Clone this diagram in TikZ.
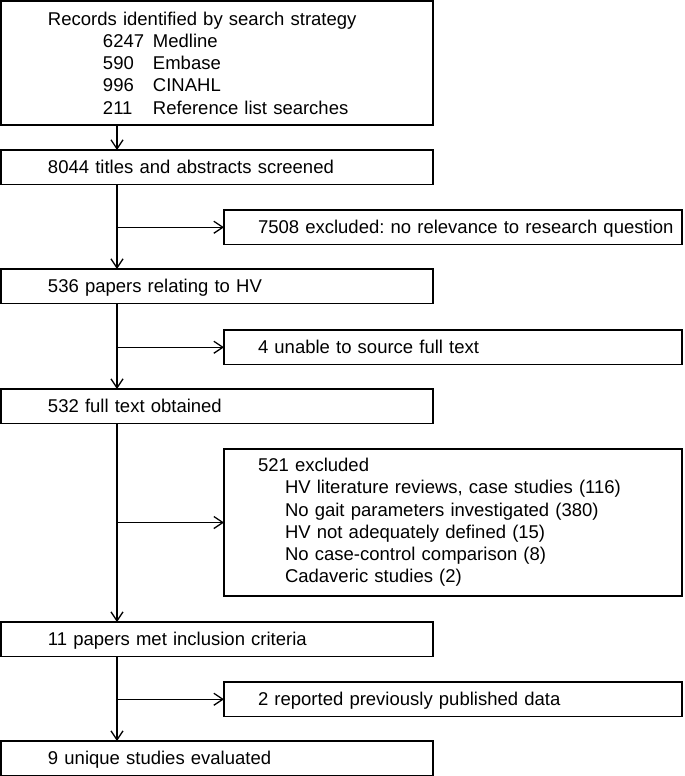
\documentclass[tikz,border=0pt]{standalone}
\usepackage{fontspec}
\setmainfont{Liberation Sans}
\usetikzlibrary{arrows.meta}
\frenchspacing

\begin{document}
\begin{tikzpicture}[
      x=1pt, y=-1pt,
      every node/.style={font=\fontsize{18.5}{22.2}\selectfont},
      box/.style={draw, line width=1.3pt, anchor=north west, outer sep=0pt, inner xsep=0pt,
        align=left, minimum height=34.5pt, text height=13pt, text depth=0pt},
      mainbox/.style={box, text width=432pt, execute at begin node={\leftskip=47pt}},
      sidebox/.style={box, text width=458pt, execute at begin node={\leftskip=34pt}},
      list/.style={text height=, text depth=},
      arrow/.style={line width=1.3pt, -{Straight Barb[length=9pt, width=12pt]}}
    ]
      \useasboundingbox (0,0) rectangle (685,776);
      \coordinate (spine) at (117,0);

      % Main flow
      \node[mainbox, list, minimum height=124pt] (records) at (1,1) {Records identified by search strategy\\
        \hspace*{55pt}\makebox[50pt][l]{6247}Medline\\
        \hspace*{55pt}\makebox[50pt][l]{590}Embase\\
        \hspace*{55pt}\makebox[50pt][l]{996}CINAHL\\
        \hspace*{55pt}\makebox[50pt][l]{211}Reference list searches};
      \node[mainbox] (screened) at (1,150) {8044 titles and abstracts screened};
      \node[mainbox] (relating) at (1,269) {536 papers relating to HV};
      \node[mainbox] (obtained) at (1,389) {532 full text obtained};
      \node[mainbox] (included) at (1,622) {11 papers met inclusion criteria};
      \node[mainbox] (evaluated) at (1,741) {9 unique studies evaluated};

      % Exclusions
      \node[sidebox] (irrelevant) at (224,210) {7508 excluded: no relevance to research question};
      \node[sidebox] (unsourced) at (224,330) {4 unable to source full text};
      \node[sidebox, list, minimum height=147pt] (excluded) at (224,449) {521 excluded\\
        \hspace*{27pt}HV literature reviews, case studies (116)\\
        \hspace*{27pt}No gait parameters investigated (380)\\
        \hspace*{27pt}HV not adequately defined (15)\\
        \hspace*{27pt}No case-control comparison (8)\\
        \hspace*{27pt}Cadaveric studies (2)};
      \node[sidebox] (duplicated) at (224,682) {2 reported previously published data};

      % Arrows down the spine
      \draw[arrow] (records.south -| spine) -- (screened.north -| spine);
      \draw[arrow] (screened.south -| spine) -- (relating.north -| spine);
      \draw[arrow] (relating.south -| spine) -- (obtained.north -| spine);
      \draw[arrow] (obtained.south -| spine) -- (included.north -| spine);
      \draw[arrow] (included.south -| spine) -- (evaluated.north -| spine);

      % Side branches
      \draw[arrow] (irrelevant.west -| spine) -- (irrelevant.west);
      \draw[arrow] (unsourced.west -| spine) -- (unsourced.west);
      \draw[arrow] (excluded.west -| spine) -- (excluded.west);
      \draw[arrow] (duplicated.west -| spine) -- (duplicated.west);

    \end{tikzpicture}
\end{document}
